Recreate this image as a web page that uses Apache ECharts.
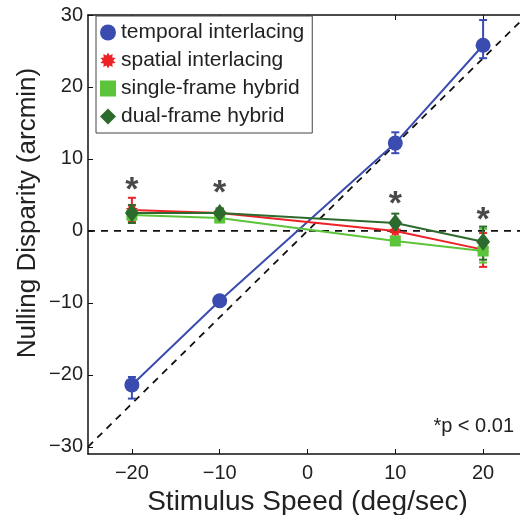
<!DOCTYPE html>
<html lang="en">
<head>
    <meta charset="UTF-8">
    <title>Nulling Disparity</title>
    <script src="https://cdn.jsdelivr.net/npm/echarts@6/dist/echarts.min.js"></script>
    <style>
        html, body { margin: 0; padding: 0; background: #fff; }
    </style>
</head>
<body>
    <div id="main" style="width: 520px; height: 515px;"></div>
    <script type="text/javascript">
        var chartDom = document.getElementById('main');
        var myChart = echarts.init(chartDom);
        var option;

        // stimulus speeds (deg/sec)
        var speeds = [-20, -10, 10, 20];
        var xTicks = [-20, -10, 0, 10, 20];
        var yTicks = [-30, -20, -10, 0, 10, 20, 30];

        // nulling disparity means (arcmin)
        var temporal = [-21.4, -9.7, 12.2, 25.8];
        var spatial = [2.9, 2.5, 0.0, -2.6];
        var singleFrame = [2.2, 1.8, -1.4, -2.8];
        var dualFrame = [2.5, 2.5, 1.1, -1.5];

        // error bar ranges [low, high]
        var temporalErr = [[-23.3, -20.3], [-10.3, -9.1], [10.8, 13.7], [24.0, 29.3]];
        var spatialErr = [[1.3, 4.6], [1.9, 3.1], [-0.8, 0.8], [-5.0, -0.3]];
        var singleErr = [[1.5, 3.0], [1.2, 2.4], [-1.9, -0.9], [-4.4, 0.3]];
        var dualErr = [[1.1, 3.6], [1.9, 3.1], [-0.1, 2.4], [-4.0, 0.6]];

        // significance asterisks
        var starY = [6.8, 6.4, 4.9, 2.7];

        // reference lines
        var diagLine = [[-25, -30], [25, 30]];
        var zeroLine = [[-25, 0], [25, 0]];

        var blue = '#3a4cb0';
        var red = '#ec2227';
        var lightGreen = '#5cc43a';
        var darkGreen = '#2d6a2d';
        var font = '"Liberation Sans", Arial, Helvetica, sans-serif';

        // burst shaped marker for spatial interlacing
        function burstPath(n) {
            var pts = [];
            for (var i = 0; i < n * 2; i++) {
                var r = i % 2 === 0 ? 10 : 6.5;
                var a = Math.PI * i / n;
                pts.push((10 + r * Math.sin(a)).toFixed(2) + ' ' + (10 - r * Math.cos(a)).toFixed(2));
            }
            return 'path://M' + pts.join(' L') + ' Z';
        }
        var burst = burstPath(10);

        function pairs(ys) {
            return speeds.map(function(x, i) { return [x, ys[i]]; });
        }

        function errSeries(color, ranges) {
            return {
                type: 'custom',
                z: 3,
                itemStyle: { color: color },
                data: speeds.map(function(x, i) { return [x, ranges[i][0], ranges[i][1]]; }),
                renderItem: function(params, api) {
                    var lo = api.coord([api.value(0), api.value(1)]);
                    var hi = api.coord([api.value(0), api.value(2)]);
                    var w = 4;
                    var style = { stroke: color, lineWidth: 2 };
                    return {
                        type: 'group',
                        children: [
                            { type: 'line', shape: { x1: lo[0], y1: lo[1], x2: hi[0], y2: hi[1] }, style: style },
                            { type: 'line', shape: { x1: lo[0] - w, y1: lo[1], x2: lo[0] + w, y2: lo[1] }, style: style },
                            { type: 'line', shape: { x1: hi[0] - w, y1: hi[1], x2: hi[0] + w, y2: hi[1] }, style: style }
                        ]
                    };
                }
            };
        }

        function lineSeries(name, color, ys, symbol, size) {
            return {
                name: name,
                type: 'line',
                z: 4,
                data: pairs(ys),
                symbol: symbol,
                symbolSize: size,
                showAllSymbol: true,
                lineStyle: { color: color, width: 2 },
                itemStyle: { color: color, borderWidth: 0 },
                emphasis: { disabled: true }
            };
        }

        function minusFmt(v) {
            return String(v).replace('-', '\u2212');
        }

        option = {
            animation: false,
            backgroundColor: '#fff',
            textStyle: { fontFamily: font },
            grid: { left: 88, top: 15, width: 439, height: 439, outerBoundsMode: 'none', containLabel: false },
            legend: {
                left: 96,
                top: 16,
                orient: 'vertical',
                backgroundColor: '#fff',
                borderColor: '#444',
                borderWidth: 1,
                padding: [6, 8, 6, 4],
                itemWidth: 16,
                itemHeight: 16,
                itemGap: 7,
                selectedMode: false,
                textStyle: { fontFamily: font, fontSize: 21, color: '#222' },
                data: [
                    { name: 'temporal interlacing', icon: 'circle' },
                    { name: 'spatial interlacing', icon: burst },
                    { name: 'single-frame hybrid', icon: 'rect' },
                    { name: 'dual-frame hybrid', icon: 'diamond' }
                ]
            },
            xAxis: [{
                type: 'value',
                min: -25,
                max: 25,
                name: 'Stimulus Speed (deg/sec)',
                nameLocation: 'middle',
                nameGap: 28,
                nameTextStyle: { fontFamily: font, fontSize: 28, color: '#222' },
                axisLine: { onZero: false, lineStyle: { color: '#111', width: 1.5 } },
                axisTick: { inside: true, length: 5, customValues: xTicks, lineStyle: { color: '#111' } },
                axisLabel: { customValues: xTicks, formatter: minusFmt, fontSize: 20, color: '#222', margin: 9, fontFamily: font },
                splitLine: { show: false }
            }, {
                type: 'value',
                position: 'top',
                min: -25,
                max: 25,
                axisLine: { onZero: false, lineStyle: { color: '#111', width: 1.5 } },
                axisTick: { inside: true, length: 5, customValues: xTicks, lineStyle: { color: '#111' } },
                axisLabel: { show: false },
                splitLine: { show: false }
            }],
            yAxis: [{
                type: 'value',
                min: -31,
                max: 30,
                axisLine: { onZero: false, lineStyle: { color: '#111', width: 1.5 } },
                axisTick: { inside: true, length: 5, customValues: yTicks, lineStyle: { color: '#111' } },
                axisLabel: { customValues: yTicks, formatter: minusFmt, fontSize: 20, color: '#222', margin: 5, fontFamily: font },
                splitLine: { show: false }
            }],
            graphic: [{
                type: 'text',
                x: 28,
                y: 213,
                rotation: Math.PI / 2,
                style: {
                    text: 'Nulling Disparity (arcmin)',
                    font: '26px ' + font,
                    fill: '#222',
                    align: 'center',
                    verticalAlign: 'middle'
                }
            }, {
                type: 'text',
                right: 6,
                top: 416,
                style: {
                    text: '*p < 0.01',
                    font: '20px ' + font,
                    fill: '#222'
                }
            }],
            series: [
                {
                    type: 'line',
                    data: diagLine,
                    symbol: 'none',
                    z: 2,
                    lineStyle: { color: '#111', width: 1.8, type: [7, 6] },
                    emphasis: { disabled: true }
                },
                {
                    type: 'line',
                    data: zeroLine,
                    symbol: 'none',
                    z: 2,
                    lineStyle: { color: '#111', width: 1.8, type: [7, 6] },
                    emphasis: { disabled: true }
                },
                errSeries(blue, temporalErr),
                lineSeries('temporal interlacing', blue, temporal, 'circle', 15),
                errSeries(red, spatialErr),
                lineSeries('spatial interlacing', red, spatial, burst, 12),
                errSeries(lightGreen, singleErr),
                lineSeries('single-frame hybrid', lightGreen, singleFrame, 'rect', 11),
                errSeries(darkGreen, dualErr),
                lineSeries('dual-frame hybrid', darkGreen, dualFrame, 'diamond', [14, 18]),
                {
                    type: 'scatter',
                    data: pairs(starY),
                    symbolSize: 1,
                    itemStyle: { color: 'rgba(0,0,0,0)' },
                    z: 5,
                    label: {
                        show: true,
                        position: 'inside',
                        formatter: '*',
                        fontSize: 34,
                        fontWeight: 'bold',
                        color: '#1a1a1a',
                        fontFamily: font,
                        offset: [0, 9]
                    },
                    emphasis: { disabled: true }
                }
            ]
        };

        option && myChart.setOption(option);
    </script>
</body>
</html>
